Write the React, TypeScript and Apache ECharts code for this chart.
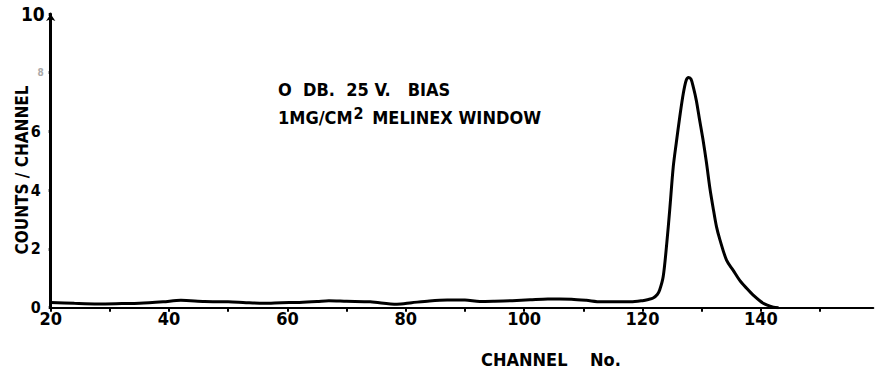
import React, { useEffect, useRef } from "react";
import * as echarts from "echarts";

const channels = [
  20, 24, 28, 32, 35, 39, 42, 46, 50, 53, 56, 59, 62, 65, 67, 70, 74, 78.5, 81, 84,
  87, 90, 92.5, 95, 98, 101, 104, 106, 108, 110.5, 113, 115.5, 118, 120, 121, 121.8,
  122.5, 122.9, 123.5, 124.1, 124.6, 125.2, 125.7, 126.3, 126.9, 127.4, 127.8, 128.2,
  128.6, 129.1, 129.6, 130.2, 130.8, 131.4, 131.9, 132.5, 133.1, 134.2, 135.3,
  136.4, 137.6, 138.7, 140.4, 142.1, 143,
];
const counts = [
  0.18, 0.15, 0.13, 0.14, 0.15, 0.2, 0.25, 0.21, 0.2, 0.17, 0.15, 0.17, 0.18, 0.21, 0.24, 0.22,
  0.2, 0.12, 0.17, 0.23, 0.26, 0.26, 0.21, 0.22, 0.24, 0.27, 0.3, 0.3, 0.29, 0.25, 0.2, 0.2,
  0.2, 0.24, 0.28, 0.33, 0.45, 0.6, 1.06, 2.19, 3.33, 4.8, 5.6, 6.5, 7.3, 7.75, 7.84, 7.78,
  7.5, 7.05, 6.45, 5.75, 4.95, 4.05, 3.44, 2.76, 2.3, 1.62, 1.28, 0.94, 0.66, 0.43,
  0.15, 0.02, 0,
];
const xTickLabels = [20, 40, 60, 80, 100, 120, 140];
const yTickLabels = [0, 2, 4, 6, 8, 10];

const FONT = "'DejaVu Sans Condensed', 'DejaVu Sans', sans-serif";

export default function App() {
  const ref = useRef<HTMLDivElement>(null);
  useEffect(() => {
    if (!ref.current) return;
    const chart = echarts.init(ref.current, undefined, { renderer: "svg" });
    const data = channels.map((c, i) => [c, counts[i]]);
    chart.setOption({
      animation: false,
      backgroundColor: "#ffffff",
      grid: { left: 50.7, right: 1.7, top: 14, bottom: 67.3 },
      xAxis: {
        type: "value",
        min: 20,
        max: 159,
        interval: 10,
        splitLine: { show: false },
        axisLine: { lineStyle: { color: "#000", width: 2 } },
        axisTick: { show: true, length: 4, lineStyle: { color: "#000", width: 2 } },
        axisLabel: {
          margin: 2,
          color: "#000",
          fontFamily: FONT,
          fontWeight: "bold",
          fontSize: 18,
          showMaxLabel: false,
          formatter: (v: number) => (xTickLabels.indexOf(v) >= 0 ? String(v) : ""),
        },
      },
      yAxis: {
        type: "value",
        min: 0,
        max: 10,
        interval: 2,
        splitLine: { show: false },
        axisLine: {
          lineStyle: { color: "#000", width: 3 },
          symbol: ["none", "arrow"],
          symbolSize: [7, 7],
        },
        axisTick: { show: true, length: 2, lineStyle: { color: "#000", width: 3 } },
        axisLabel: {
          margin: 10,
          color: "#000",
          fontFamily: FONT,
          fontWeight: "bold",
          fontSize: 16,
          formatter: (v: number) => {
            if (yTickLabels.indexOf(v) < 0) return "";
            if (v === 10) return "{big|10}";
            if (v === 8) return "{faint|8}";
            return "{n|" + v + "}";
          },
          rich: {
            big: { fontSize: 19, fontWeight: "bold", fontFamily: FONT, color: "#000", padding: [0, -4, 0, 0] },
            faint: { fontSize: 10, fontWeight: "bold", fontFamily: FONT, color: "#aaa", padding: [0, -3, 0, 0] },
            n: { fontSize: 16, fontWeight: "bold", fontFamily: FONT, color: "#000" },
          },
        },
      },
      series: [
        {
          type: "line",
          data,
          showSymbol: false,
          smooth: 0.3,
          lineStyle: { color: "#000", width: 3 },
        },
      ],
      graphic: [
        {
          type: "text",
          left: 278,
          top: 80,
          style: {
            text: "O  DB.  25 V.   BIAS",
            font: `bold 18px ${FONT}`,
            fill: "#000",
          },
        },
        {
          type: "text",
          left: 278,
          top: 105,
          style: {
            text: "1MG/CM{sup|2} MELINEX WINDOW",
            font: `bold 18px ${FONT}`,
            fill: "#000",
            rich: {
              sup: { fontSize: 16, fontWeight: "bold", fontFamily: FONT, fill: "#000", padding: [0, 3, 9, 1] },
            },
          },
        },
        {
          type: "text",
          left: 481,
          top: 350,
          style: {
            text: "CHANNEL    No.",
            font: `bold 18px ${FONT}`,
            fill: "#000",
          },
        },
        {
          type: "text",
          x: 22,
          y: 170,
          rotation: Math.PI / 2,
          style: {
            text: "COUNTS / CHANNEL",
            font: `bold 17px ${FONT}`,
            fill: "#000",
            align: "center",
            verticalAlign: "middle",
          },
        },
      ],
    });
    return () => chart.dispose();
  }, []);
  return (
    <div
      ref={ref}
      style={{ position: "fixed", left: 0, top: 0, width: 875, height: 375, background: "#fff" }}
    />
  );
}
